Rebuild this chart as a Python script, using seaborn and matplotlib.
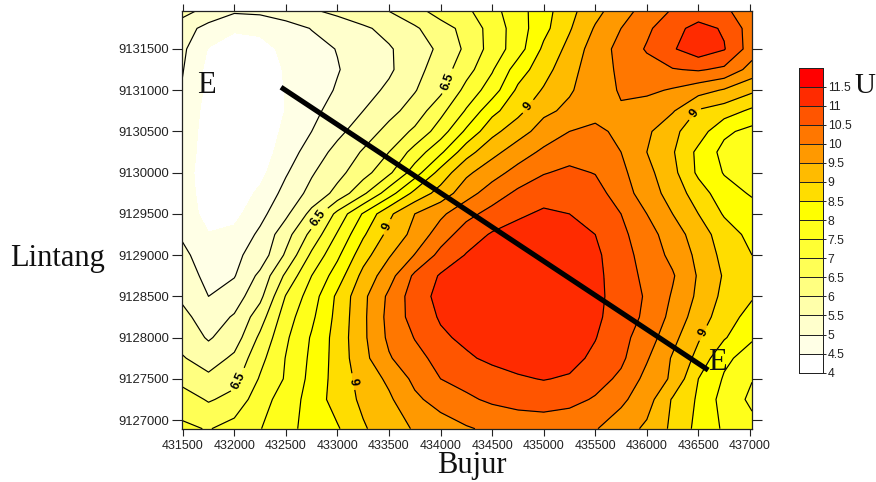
import matplotlib
matplotlib.use('Agg')
import matplotlib.pyplot as plt
from matplotlib.colors import ListedColormap
import seaborn as sns
import numpy as np

# grid
bujur = [431490, 431750, 432000, 432250, 432500, 432750, 433000, 433250, 433500, 433750, 434000, 434250,
         434500, 434750, 435000, 435250, 435500, 435750, 436000, 436250, 436500, 436750, 437020]
lintang = [9131957, 9131750, 9131500, 9131250, 9131000, 9130750, 9130500, 9130250, 9130000, 9129750, 9129500,
           9129250, 9129000, 9128750, 9128500, 9128250, 9128000, 9127750, 9127500, 9127250, 9126895]
u = [
    [5.7, 5.3, 5.06, 5.1, 5.28, 5.43, 5.62, 5.83, 6.0, 6.32, 6.7, 6.9, 7.33, 7.8, 8.3, 8.85, 9.35, 9.8, 10.2, 10.55, 10.75, 10.6, 10.2],
    [5.2, 4.85, 4.58, 4.62, 4.78, 5.02, 5.2, 5.42, 5.65, 5.93, 6.3, 6.65, 7.2, 7.75, 8.35, 8.95, 9.55, 10.0, 10.4, 10.85, 11.15, 10.95, 10.25],
    [5.12, 4.47, 4.2, 4.32, 4.62, 4.82, 5.02, 5.25, 5.45, 5.75, 6.1, 6.6, 7.2, 7.77, 8.6, 9.15, 9.75, 10.15, 10.55, 10.95, 11.3, 11.03, 10.25],
    [5.05, 4.35, 4.12, 4.2, 4.55, 4.78, 4.97, 5.25, 5.42, 5.83, 6.25, 6.8, 7.45, 8.25, 8.8, 9.35, 9.75, 10.1, 10.3, 10.47, 10.55, 10.4, 9.8],
    [4.97, 4.38, 4.1, 4.12, 4.53, 4.75, 5.05, 5.3, 5.6, 5.97, 6.38, 7.17, 7.75, 8.6, 9.05, 9.45, 9.75, 10.05, 10.1, 9.95, 9.7, 9.45, 9.1],
    [4.85, 4.33, 4.08, 4.1, 4.52, 4.87, 5.2, 5.5, 5.85, 6.2, 6.85, 7.55, 8.35, 8.85, 9.4, 9.6, 9.85, 9.95, 9.75, 9.55, 8.95, 8.75, 8.4],
    [4.75, 4.33, 4.05, 4.13, 4.63, 5.0, 5.38, 5.75, 6.15, 6.6, 7.25, 8.1, 8.85, 9.3, 9.7, 10.0, 10.1, 9.9, 9.6, 9.1, 8.75, 8.1, 7.85],
    [4.7, 4.33, 4.05, 4.22, 4.75, 5.23, 5.65, 6.05, 6.5, 7.2, 7.9, 8.8, 9.35, 9.75, 10.1, 10.3, 10.4, 10.0, 9.5, 9.05, 8.38, 7.85, 7.65],
    [4.65, 4.32, 4.08, 4.35, 4.95, 5.45, 5.85, 6.3, 6.9, 7.75, 8.7, 9.4, 9.8, 10.18, 10.47, 10.6, 10.48, 10.12, 9.65, 9.15, 8.4, 7.97, 7.7],
    [4.68, 4.33, 4.2, 4.6, 5.17, 5.65, 6.15, 6.9, 7.77, 8.65, 9.2, 9.8, 10.25, 10.6, 10.8, 10.85, 10.7, 10.25, 9.75, 9.3, 8.75, 8.2, 7.95],
    [4.75, 4.35, 4.35, 4.85, 5.4, 6.15, 7.15, 8.05, 8.9, 9.5, 9.9, 10.35, 10.67, 10.92, 11.08, 11.0, 10.75, 10.5, 10.0, 9.5, 9.0, 8.45, 8.2],
    [4.95, 4.52, 4.63, 5.1, 5.8, 6.65, 7.55, 8.43, 9.15, 9.65, 10.25, 10.75, 11.05, 11.2, 11.3, 11.25, 11.0, 10.62, 10.2, 9.75, 9.25, 8.75, 8.35],
    [5.12, 4.75, 4.9, 5.2, 6.08, 7.1, 7.9, 8.8, 9.45, 10.02, 10.65, 11.03, 11.18, 11.28, 11.38, 11.35, 11.1, 10.7, 10.3, 9.87, 9.38, 8.85, 8.5],
    [5.28, 4.85, 4.97, 5.62, 6.6, 7.5, 8.25, 9.15, 9.8, 10.6, 11.05, 11.2, 11.3, 11.36, 11.42, 11.4, 11.15, 10.7, 10.4, 10.05, 9.45, 8.95, 8.65],
    [5.42, 5.0, 5.25, 5.87, 7.03, 7.75, 8.6, 9.38, 10.1, 10.75, 11.15, 11.25, 11.35, 11.38, 11.42, 11.35, 11.15, 10.75, 10.45, 9.95, 9.4, 8.87, 8.55],
    [5.65, 5.25, 5.55, 6.27, 7.27, 7.9, 8.65, 9.4, 10.15, 10.7, 11.05, 11.2, 11.3, 11.33, 11.35, 11.28, 11.1, 10.75, 10.4, 9.85, 9.25, 8.75, 8.3],
    [5.8, 5.45, 5.75, 6.6, 7.42, 8.05, 8.7, 9.4, 10.1, 10.52, 10.92, 11.1, 11.2, 11.25, 11.25, 11.18, 11.02, 10.65, 10.25, 9.65, 9.05, 8.55, 8.05],
    [6.05, 5.75, 6.1, 6.85, 7.52, 8.1, 8.7, 9.35, 9.95, 10.35, 10.65, 10.93, 11.1, 11.17, 11.2, 11.15, 10.9, 10.6, 10.05, 9.45, 8.85, 8.1, 7.8],
    [6.35, 6.12, 6.35, 7.05, 7.55, 8.15, 8.7, 9.2, 9.6, 10.12, 10.5, 10.65, 10.8, 10.95, 11.02, 10.95, 10.7, 10.4, 9.85, 9.42, 8.5, 7.95, 7.52],
    [6.75, 6.45, 6.65, 7.3, 7.72, 8.2, 8.72, 9.1, 9.42, 9.9, 10.2, 10.42, 10.58, 10.68, 10.73, 10.65, 10.45, 10.1, 9.72, 8.95, 8.43, 7.8, 7.4],
    [7.1, 6.97, 7.2, 7.48, 7.83, 8.2, 8.45, 8.95, 9.25, 9.55, 9.75, 9.95, 10.1, 10.18, 10.2, 10.15, 10.03, 9.75, 9.4, 8.9, 8.35, 7.93, 7.65],
]

tingkat = [4, 4.5, 5, 5.5, 6, 6.5, 7, 7.5, 8, 8.5, 9, 9.5, 10, 10.5, 11, 11.5, 12]
warna = ['#FFFFFF', '#FFFFE6', '#FFFFCC', '#FFFFAA', '#FFFF80', '#FFFF55', '#FFFF33', '#FFFF1A',
         '#FFFF00', '#FFDD00', '#FFBB00', '#FF9900', '#FF7700', '#FF5500', '#FF2B00', '#FF0000']
tingkat_garis = [5, 5.5, 6, 7, 7.5, 8, 8.5, 9.5, 10, 10.5, 11]

# lintasan E - E
lintasan_x = [432453, 436595]
lintasan_y = [9131036, 9127606]

# posisi label kontur
label_65 = [(434093, 9131097), (432822, 9129448), (432075, 9127460)]
label_9 = [(434859, 9130794), (433511, 9129327), (436459, 9130721), (436527, 9128067), (433123, 9127460)]

W, H = 876.0, 482.0


def kotak(x0, y0, x1, y1):
    return [x0 / W, 1 - y1 / H, (x1 - x0) / W, (y1 - y0) / H]


sns.set_style('ticks')
plt.rcParams['font.family'] = ['Liberation Sans', 'DejaVu Sans']

fig = plt.figure(figsize=(8.76, 4.82), dpi=100)
ax = fig.add_axes(kotak(181.7, 11.3, 751.7, 428.7))

ax.contourf(bujur, lintang, u, levels=tingkat, colors=warna)
ax.contour(bujur, lintang, u, levels=tingkat_garis, colors='black', linewidths=0.85)
# clabel with manual points only works when the set holds just the labelled level
for lv, pos in [(6.5, label_65), (9, label_9)]:
    cs = ax.contour(bujur, lintang, u, levels=[lv], colors='black', linewidths=0.85)
    ax.clabel(cs, manual=pos, inline=True, fmt='%g', fontsize=9, colors='black')
    for t in cs.labelTexts:
        t.set_fontweight('bold')

sns.lineplot(x=lintasan_x, y=lintasan_y, color='black', linewidth=3.7, ax=ax, solid_capstyle='butt')

ax.set_xlim(431490, 437017)
ax.set_ylim(9126895, 9131957)
ax.set_xticks(np.arange(431500, 437001, 500))
ax.set_yticks(np.arange(9127000, 9131501, 500))
ax.ticklabel_format(useOffset=False, style='plain')
ax.tick_params(axis='x', top=True, length=5, width=0.8, labelsize=9, pad=3, color='#222222', labelcolor='#222222')
ax.tick_params(axis='y', right=True, length=7, width=0.8, labelsize=9.4, pad=2, color='#222222', labelcolor='#222222')
for s in ax.spines.values():
    s.set_linewidth(0.9)
    s.set_color('#222222')

# skala warna
cax = fig.add_axes(kotak(799, 67.5, 823, 372.7))
pita = np.array(tingkat[:-1])[::-1].reshape(-1, 1)
sns.heatmap(pita, cmap=ListedColormap(warna), vmin=4, vmax=12, cbar=False, linewidths=0.7, linecolor='#222222',
            xticklabels=False, ax=cax, clip_on=False)
cax.yaxis.tick_right()
cax.set_yticks(np.arange(1, 17))
cax.set_yticklabels(['%g' % v for v in tingkat[:-1]][::-1], rotation=0)
cax.tick_params(axis='y', length=2.5, width=0.7, labelsize=8.8, pad=1, color='#222222', labelcolor='#222222')

serif = ['Liberation Serif', 'DejaVu Serif']
for teks, px, py, ha, ukuran in [('Lintang', 10, 266, 'left', 22), ('Bujur', 472, 473, 'center', 22),
                                 ('E', 197, 93, 'left', 22), ('E', 708, 370, 'left', 22),
                                 ('U', 875, 93, 'right', 21)]:
    fig.text(px / W, 1 - py / H, teks, family=serif, fontsize=ukuran, ha=ha, va='baseline', color='#111111')

fig.savefig('out.png', dpi=100)
